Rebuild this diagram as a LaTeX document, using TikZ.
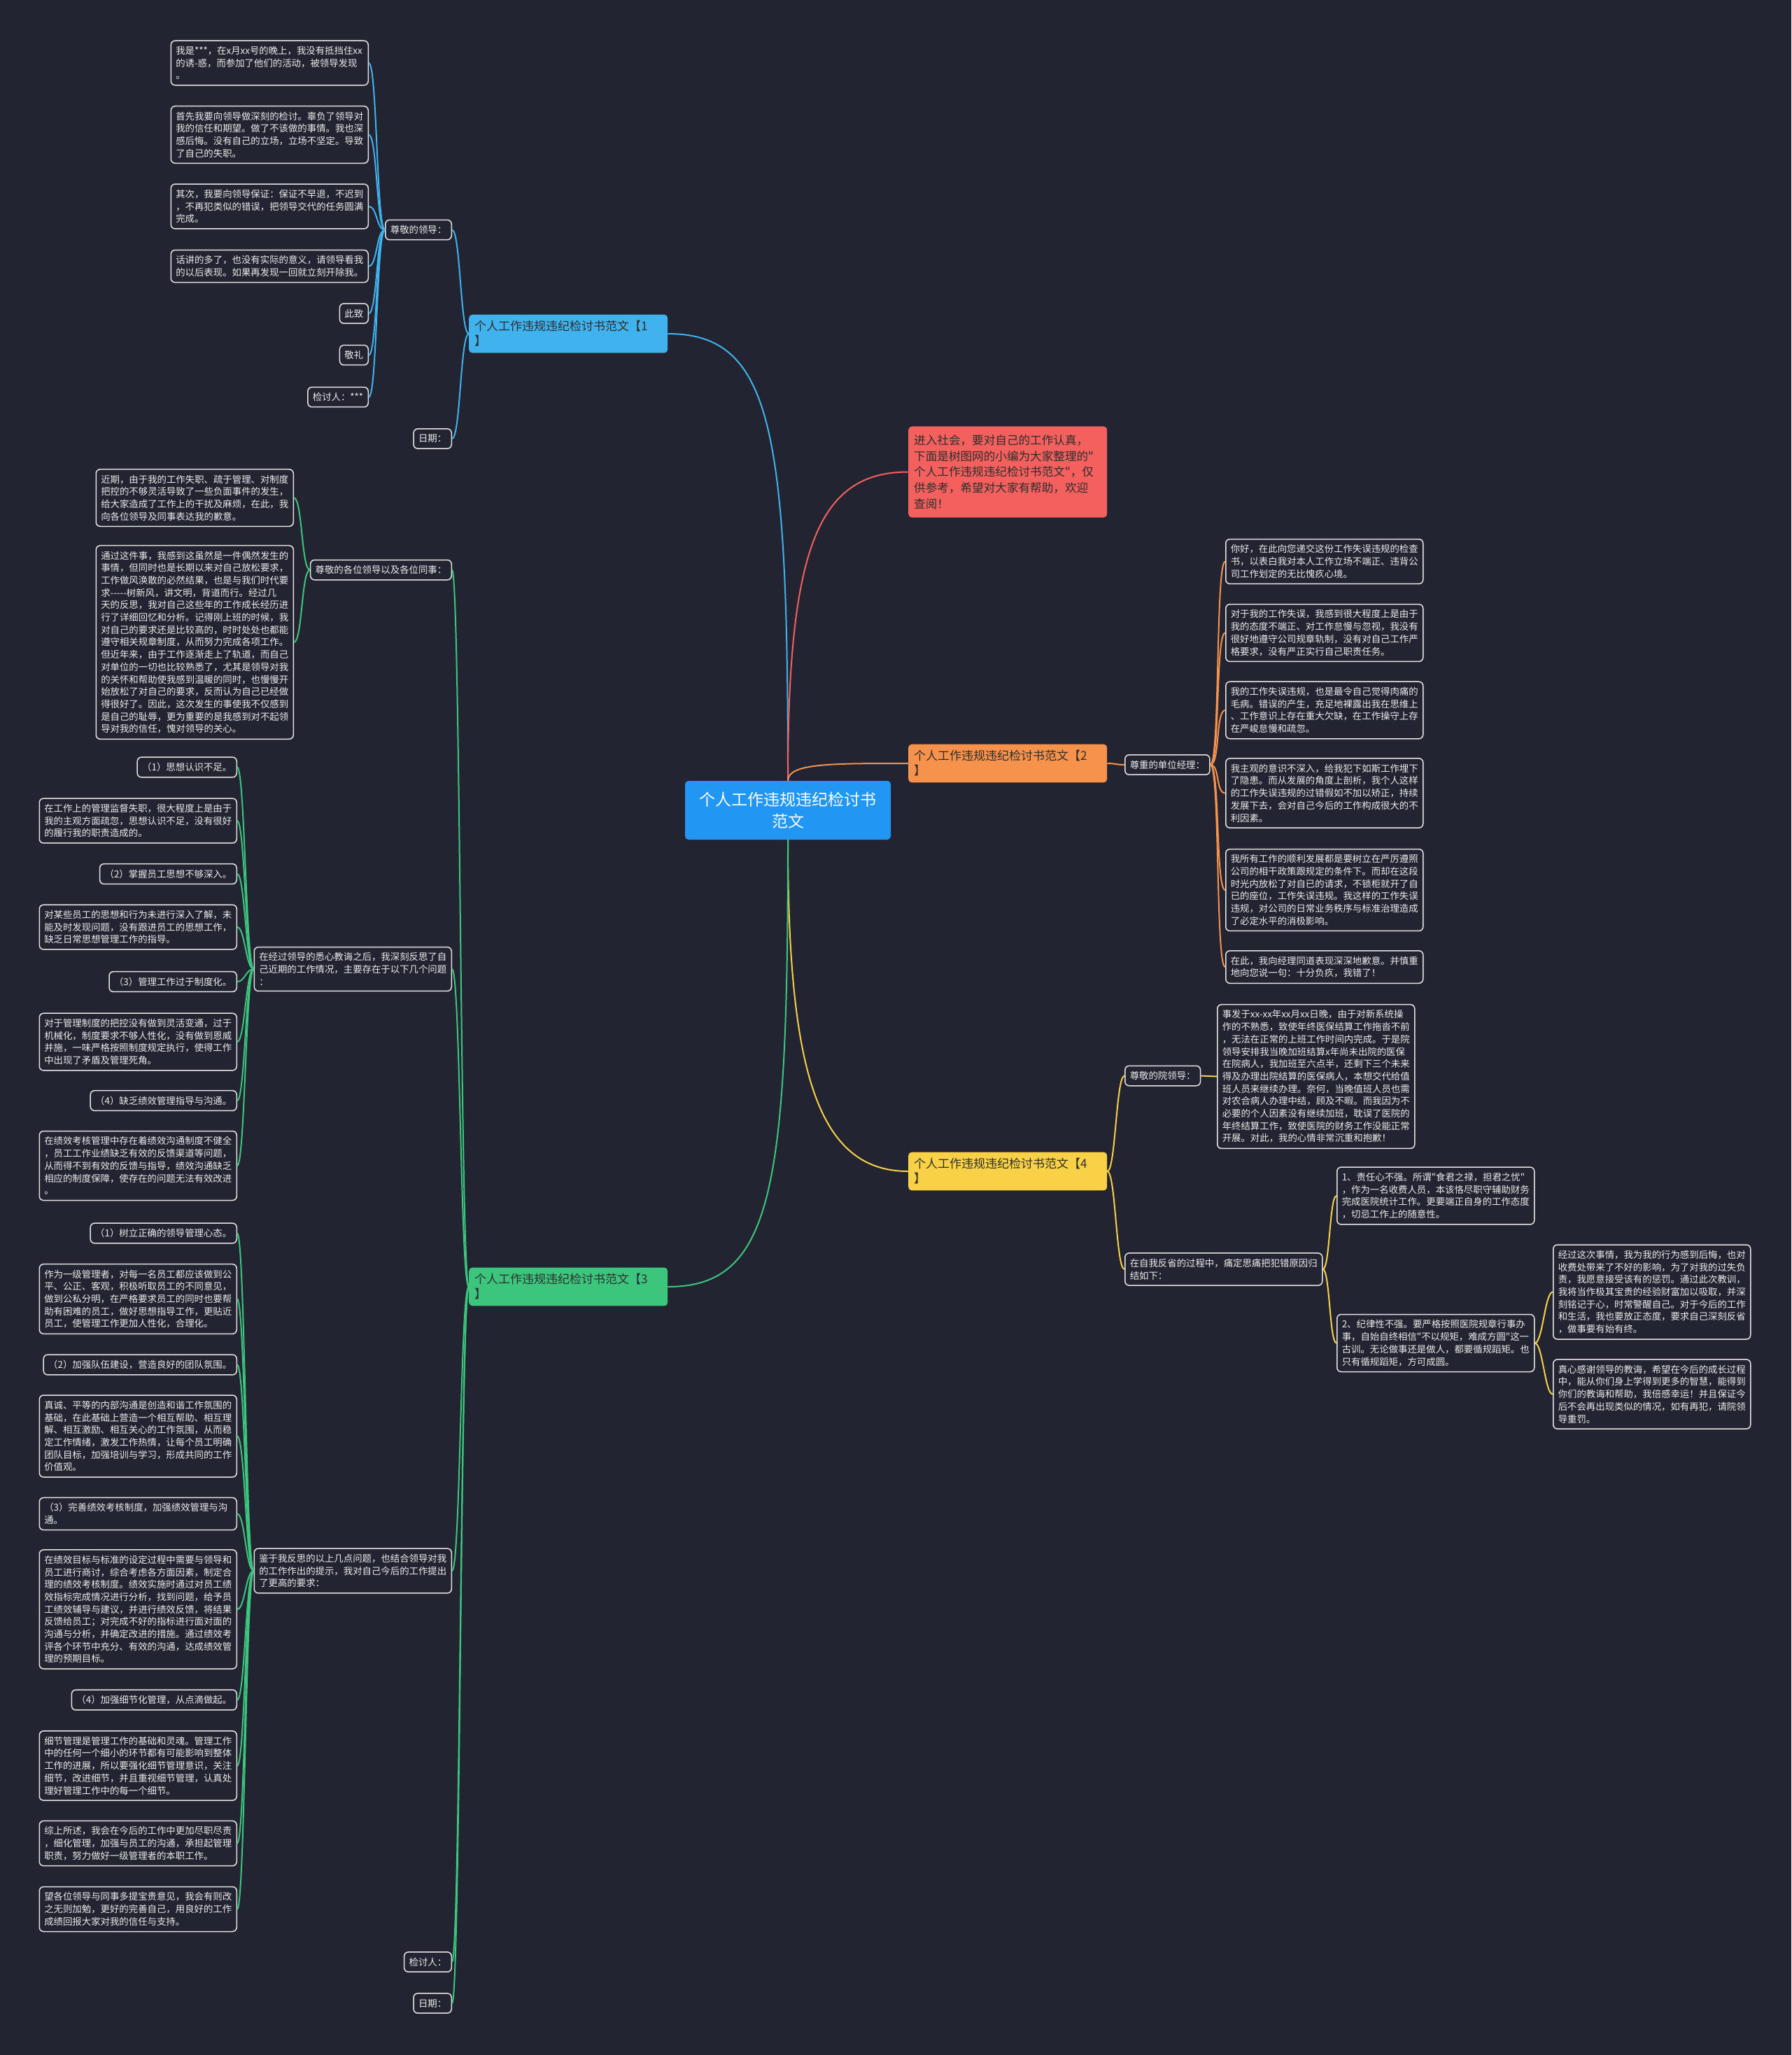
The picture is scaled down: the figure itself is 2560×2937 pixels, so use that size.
\documentclass[tikz,border=0pt]{standalone}
\usetikzlibrary{calc}
% CJK fonts loaded directly (keeps " and - as typed)
\font\leafCJK="Noto Sans CJK SC" at 13.4pt
\font\branchCJK="Noto Sans CJK SC" at 17pt
\font\introCJK="Noto Sans CJK SC" at 16.6pt
\font\rootCJK="Noto Sans CJK SC" at 23pt
\newcommand\leaffont{\leafCJK\baselineskip=17.7pt\relax}
\newcommand\branchfont{\branchCJK\baselineskip=21pt\relax}
\newcommand\introfont{\introCJK\baselineskip=22.7pt\relax}
\newcommand\rootfont{\rootCJK\baselineskip=31pt\relax}
\definecolor{bgcol}{HTML}{222531}
\definecolor{leafline}{HTML}{E4E4E4}
\definecolor{leaftext}{HTML}{ECECEC}
\definecolor{rootcol}{HTML}{2196F3}
\definecolor{bluecol}{HTML}{40B3EE}
\definecolor{redcol}{HTML}{F3605E}
\definecolor{orangecol}{HTML}{F6924B}
\definecolor{yellowcol}{HTML}{F8D147}
\definecolor{greencol}{HTML}{3CC57D}
\definecolor{branchtext}{HTML}{2E2E2E}

\begin{document}
\begin{tikzpicture}[
  x=1pt, y=-1pt,
  leaf/.style={draw=leafline, line width=1.5pt, rounded corners=6pt, fill=bgcol, text=leaftext, font=\leaffont, inner xsep=7pt, inner ysep=8pt, align=left},
  para/.style={leaf, text width=268pt},
  branch/.style={rounded corners=5pt, font=\branchfont, text=branchtext, text width=268pt, inner xsep=8pt, inner ysep=9pt, align=left},
  rootnode/.style={rounded corners=5pt, fill=rootcol, text=white, font=\rootfont, minimum width=294pt, minimum height=84pt, align=center},
  link/.style={line width=2pt}
]
\fill[bgcol] (0,0) rectangle (2560,2937);
\useasboundingbox (0,0) rectangle (2560,2937);

% root and main branches
\node[rootnode] (root) at (1126,1158) {个人工作违规违纪检讨书\\范文};
\node[branch, fill=bluecol, anchor=west] (br1) at (670,477) {个人工作违规违纪检讨书范文【1\\】};
\node[branch, fill=redcol, anchor=west, font=\introfont, inner ysep=12pt] (intro) at (1298,674.5) {进入社会，要对自己的工作认真，\\下面是树图网的小编为大家整理的"\\个人工作违规违纪检讨书范文"，仅\\供参考，希望对大家有帮助，欢迎\\查阅！};
\node[branch, fill=orangecol, anchor=west] (br2) at (1298,1091) {个人工作违规违纪检讨书范文【2\\】};
\node[branch, fill=yellowcol, anchor=west] (br4) at (1298,1674) {个人工作违规违纪检讨书范文【4\\】};
\node[branch, fill=greencol, anchor=west] (br3) at (670,1839) {个人工作违规违纪检讨书范文【3\\】};

\draw[link, bluecol] (root.north) .. controls +(0,-500) and +(150,0) .. (br1.east);
\draw[link, redcol] (root.north) .. controls +(0,-330) and +(-130,0) .. (intro.west);
\draw[link, orangecol] (root.north) .. controls +(0,-25) and +(-110,0) .. (br2.west);
\draw[link, yellowcol] (root.south) .. controls +(0,330) and +(-130,0) .. (br4.west);
\draw[link, greencol] (root.south) .. controls +(0,500) and +(150,0) .. (br3.east);

% branch 1
\node[leaf, anchor=east] (b1lab) at (646,328.5) {尊敬的领导：};
\node[leaf, anchor=east] (b1date) at (646,627) {日期：};
\node[para, anchor=east] (b1l1) at (527,90) {我是***，在x月xx号的晚上，我没有抵挡住xx\\的诱-惑，而参加了他们的活动，被领导发现\\。};
\node[para, anchor=east] (b1l2) at (527,192.5) {首先我要向领导做深刻的检讨。辜负了领导对\\我的信任和期望。做了不该做的事情。我也深\\感后悔。没有自己的立场，立场不坚定。导致\\了自己的失职。};
\node[para, anchor=east] (b1l3) at (527,295) {其次，我要向领导保证：保证不早退，不迟到\\，不再犯类似的错误，把领导交代的任务圆满\\完成。};
\node[para, anchor=east] (b1l4) at (527,380.5) {话讲的多了，也没有实际的意义，请领导看我\\的以后表现。如果再发现一回就立刻开除我。};
\node[leaf, anchor=east] (b1bye) at (527,448) {此致};
\node[leaf, anchor=east] (b1salute) at (527,507.5) {敬礼};
\node[leaf, anchor=east] (b1sign) at (527,567.5) {检讨人：***};

\draw[link, bluecol] (br1.west) .. controls +(-12,0) and +(12,0) .. (b1lab.east);
\draw[link, bluecol] (br1.west) .. controls +(-12,0) and +(12,0) .. (b1date.east);
\foreach \n in {b1l1,b1l2,b1l3,b1l4,b1bye,b1salute,b1sign}
  \draw[link, bluecol] (b1lab.west) .. controls +(-12,0) and +(12,0) .. (\n.east);

% branch 2
\node[leaf, anchor=west] (b2lab) at (1607,1093) {尊重的单位经理：};
\node[para, anchor=west] (b2l1) at (1751,802.5) {你好，在此向您递交这份工作失误违规的检查\\书，以表白我对本人工作立场不端正、违背公\\司工作划定的无比愧疚心境。};
\node[para, anchor=west] (b2l2) at (1751,904.5) {对于我的工作失误，我感到很大程度上是由于\\我的态度不端正、对工作怠慢与忽视，我没有\\很好地遵守公司规章轨制，没有对自己工作严\\格要求，没有严正实行自己职责任务。};
\node[para, anchor=west] (b2l3) at (1751,1015) {我的工作失误违规，也是最令自己觉得肉痛的\\毛病。错误的产生，充足地裸露出我在思维上\\、工作意识上存在重大欠缺，在工作操守上存\\在严峻怠慢和疏忽。};
\node[para, anchor=west] (b2l4) at (1751,1133.5) {我主观的意识不深入，给我犯下如斯工作埋下\\了隐患。而从发展的角度上剖析，我个人这样\\的工作失误违规的过错假如不加以矫正，持续\\发展下去，会对自己今后的工作构成很大的不\\利因素。};
\node[para, anchor=west] (b2l5) at (1751,1272) {我所有工作的顺利发展都是要树立在严厉遵照\\公司的相干政策跟规定的条件下。而却在这段\\时光内放松了对自已的请求，不锁柜就开了自\\已的座位，工作失误违规。我这样的工作失误\\违规，对公司的日常业务秩序与标准治理造成\\了必定水平的消极影响。};
\node[para, anchor=west] (b2l6) at (1751,1382) {在此，我向经理同道表现深深地歉意。并慎重\\地向您说一句：十分负疚，我错了！};

\draw[link, orangecol] (br2.east) .. controls +(12,0) and +(-12,0) .. (b2lab.west);
\foreach \n in {b2l1,b2l2,b2l3,b2l4,b2l5,b2l6}
  \draw[link, orangecol] (b2lab.east) .. controls +(14,0) and +(-14,0) .. (\n.west);

% branch 4
\node[leaf, anchor=west] (b4lab1) at (1607,1537.5) {尊敬的院领导：};
\node[para, anchor=west] (b4l1) at (1739,1538.5) {事发于xx-xx年xx月xx日晚，由于对新系统操\\作的不熟悉，致使年终医保结算工作拖沓不前\\，无法在正常的上班工作时间内完成。于是院\\领导安排我当晚加班结算x年尚未出院的医保\\在院病人，我加班至六点半，还剩下三个未来\\得及办理出院结算的医保病人，本想交代给值\\班人员来继续办理。奈何，当晚值班人员也需\\对农合病人办理中结，顾及不暇。而我因为不\\必要的个人因素没有继续加班，耽误了医院的\\年终结算工作，致使医院的财务工作没能正常\\开展。对此，我的心情非常沉重和抱歉！};
\node[para, anchor=west] (b4lab2) at (1607,1814) {在自我反省的过程中，痛定思痛把犯错原因归\\结如下：};
\node[para, anchor=west] (b4s1) at (1910,1709) {1、责任心不强。所谓"食君之禄，担君之忧"\\，作为一名收费人员，本该恪尽职守辅助财务\\完成医院统计工作。更要端正自身的工作态度\\，切忌工作上的随意性。};
\node[para, anchor=west] (b4s2) at (1910,1919.5) {2、纪律性不强。要严格按照医院规章行事办\\事，自始自终相信"不以规矩，难成方圆"这一\\古训。无论做事还是做人，都要循规蹈矩。也\\只有循规蹈矩，方可成圆。};
\node[para, anchor=west] (b4s2a) at (2219,1846.5) {经过这次事情，我为我的行为感到后悔，也对\\收费处带来了不好的影响，为了对我的过失负\\责，我愿意接受该有的惩罚。通过此次教训，\\我将当作极其宝贵的经验财富加以吸取，并深\\刻铭记于心，时常警醒自己。对于今后的工作\\和生活，我也要放正态度，要求自己深刻反省\\，做事要有始有终。};
\node[para, anchor=west] (b4s2b) at (2219,1992.5) {真心感谢领导的教诲，希望在今后的成长过程\\中，能从你们身上学得到更多的智慧，能得到\\你们的教诲和帮助，我倍感幸运！并且保证今\\后不会再出现类似的情况，如有再犯，请院领\\导重罚。};

\draw[link, yellowcol] (br4.east) .. controls +(12,0) and +(-12,0) .. (b4lab1.west);
\draw[link, yellowcol] (br4.east) .. controls +(12,0) and +(-12,0) .. (b4lab2.west);
\draw[link, yellowcol] (b4lab1.east) .. controls +(12,0) and +(-12,0) .. (b4l1.west);
\draw[link, yellowcol] (b4lab2.east) .. controls +(10,0) and +(-10,0) .. (b4s1.west);
\draw[link, yellowcol] (b4lab2.east) .. controls +(10,0) and +(-10,0) .. (b4s2.west);
\draw[link, yellowcol] (b4s2.east) .. controls +(11,0) and +(-11,0) .. (b4s2a.west);
\draw[link, yellowcol] (b4s2.east) .. controls +(11,0) and +(-11,0) .. (b4s2b.west);

% branch 3
\node[leaf, anchor=east] (b3lab1) at (646,814.5) {尊敬的各位领导以及各位同事：};
\node[para, anchor=east] (b3a1) at (420,711.5) {近期，由于我的工作失职、疏于管理、对制度\\把控的不够灵活导致了一些负面事件的发生，\\给大家造成了工作上的干扰及麻烦，在此，我\\向各位领导及同事表达我的歉意。};
\node[para, anchor=east] (b3a2) at (420,918) {通过这件事，我感到这虽然是一件偶然发生的\\事情，但同时也是长期以来对自己放松要求，\\工作做风涣散的必然结果，也是与我们时代要\\求-\kern0pt-\kern0pt-\kern0pt-\kern0pt-树新风，讲文明，背道而行。经过几\\天的反思，我对自己这些年的工作成长经历进\\行了详细回忆和分析。记得刚上班的时候，我\\对自己的要求还是比较高的，时时处处也都能\\遵守相关规章制度，从而努力完成各项工作。\\但近年来，由于工作逐渐走上了轨道，而自己\\对单位的一切也比较熟悉了，尤其是领导对我\\的关怀和帮助使我感到温暖的同时，也慢慢开\\始放松了对自己的要求，反而认为自己已经做\\得很好了。因此，这次发生的事使我不仅感到\\是自己的耻辱，更为重要的是我感到对不起领\\导对我的信任，愧对领导的关心。};

\node[para, anchor=east] (b3lab2) at (646,1385) {在经过领导的悉心教诲之后，我深刻反思了自\\己近期的工作情况，主要存在于以下几个问题\\：};
\node[leaf, anchor=east] (p1) at (339,1096.5) {（1）思想认识不足。};
\node[para, anchor=east] (p1t) at (339,1173) {在工作上的管理监督失职，很大程度上是由于\\我的主观方面疏忽，思想认识不足，没有很好\\的履行我的职责造成的。};
\node[leaf, anchor=east] (p2) at (339,1249) {（2）掌握员工思想不够深入。};
\node[para, anchor=east] (p2t) at (339,1325) {对某些员工的思想和行为未进行深入了解，未\\能及时发现问题，没有跟进员工的思想工作，\\缺乏日常思想管理工作的指导。};
\node[leaf, anchor=east] (p3) at (339,1403) {（3）管理工作过于制度化。};
\node[para, anchor=east] (p3t) at (339,1489) {对于管理制度的把控没有做到灵活变通，过于\\机械化，制度要求不够人性化，没有做到恩威\\并施，一味严格按照制度规定执行，使得工作\\中出现了矛盾及管理死角。};
\node[leaf, anchor=east] (p4) at (339,1573) {（4）缺乏绩效管理指导与沟通。};
\node[para, anchor=east] (p4t) at (339,1666) {在绩效考核管理中存在着绩效沟通制度不健全\\，员工工作业绩缺乏有效的反馈渠道等问题，\\从而得不到有效的反馈与指导，绩效沟通缺乏\\相应的制度保障，使存在的问题无法有效改进\\。};

\node[para, anchor=east] (b3lab3) at (646,2245) {鉴于我反思的以上几点问题，也结合领导对我\\的工作作出的提示，我对自己今后的工作提出\\了更高的要求：};
\node[leaf, anchor=east] (q1) at (339,1762.5) {（1）树立正确的领导管理心态。};
\node[para, anchor=east] (q1t) at (339,1856.5) {作为一级管理者，对每一名员工都应该做到公\\平、公正、客观，积极听取员工的不同意见，\\做到公私分明，在严格要求员工的同时也要帮\\助有困难的员工，做好思想指导工作，更贴近\\员工，使管理工作更加人性化，合理化。};
\node[leaf, anchor=east] (q2) at (339,1950.5) {（2）加强队伍建设，营造良好的团队氛围。};
\node[para, anchor=east] (q2t) at (339,2052.5) {真诚、平等的内部沟通是创造和谐工作氛围的\\基础，在此基础上营造一个相互帮助、相互理\\解、相互激励、相互关心的工作氛围，从而稳\\定工作情绪，激发工作热情，让每个员工明确\\团队目标，加强培训与学习，形成共同的工作\\价值观。};
\node[para, anchor=east] (q3) at (339,2163.5) {（3）完善绩效考核制度，加强绩效管理与沟\\通。};
\node[para, anchor=east] (q3t) at (339,2300) {在绩效目标与标准的设定过程中需要与领导和\\员工进行商讨，综合考虑各方面因素，制定合\\理的绩效考核制度。绩效实施时通过对员工绩\\效指标完成情况进行分析，找到问题，给予员\\工绩效辅导与建议，并进行绩效反馈，将结果\\反馈给员工；对完成不好的指标进行面对面的\\沟通与分析，并确定改进的措施。通过绩效考\\评各个环节中充分、有效的沟通，达成绩效管\\理的预期目标。};
\node[leaf, anchor=east] (q4) at (339,2429.5) {（4）加强细节化管理，从点滴做起。};
\node[para, anchor=east] (q4t) at (339,2523.5) {细节管理是管理工作的基础和灵魂。管理工作\\中的任何一个细小的环节都有可能影响到整体\\工作的进展，所以要强化细节管理意识，关注\\细节，改进细节，并且重视细节管理，认真处\\理好管理工作中的每一个细节。};
\node[para, anchor=east] (q5) at (339,2634.5) {综上所述，我会在今后的工作中更加尽职尽责\\，细化管理，加强与员工的沟通，承担起管理\\职责，努力做好一级管理者的本职工作。};
\node[para, anchor=east] (q6) at (339,2728.5) {望各位领导与同事多提宝贵意见，我会有则改\\之无则加勉，更好的完善自己，用良好的工作\\成绩回报大家对我的信任与支持。};
\node[leaf, anchor=east] (b3sign) at (646,2804) {检讨人：};
\node[leaf, anchor=east] (b3date) at (646,2863) {日期：};

\foreach \n in {b3lab1,b3lab2,b3lab3,b3sign,b3date}
  \draw[link, greencol] (br3.west) .. controls +(-12,0) and +(12,0) .. (\n.east);
\foreach \n in {b3a1,b3a2}
  \draw[link, greencol] (b3lab1.west) .. controls +(-12,0) and +(12,0) .. (\n.east);
\foreach \n in {p1,p1t,p2,p2t,p3,p3t,p4,p4t}
  \draw[link, greencol] (b3lab2.west) .. controls +(-11,0) and +(11,0) .. (\n.east);
\foreach \n in {q1,q1t,q2,q2t,q3,q3t,q4,q4t,q5,q6}
  \draw[link, greencol] (b3lab3.west) .. controls +(-11,0) and +(11,0) .. (\n.east);
\end{tikzpicture}
\end{document}
